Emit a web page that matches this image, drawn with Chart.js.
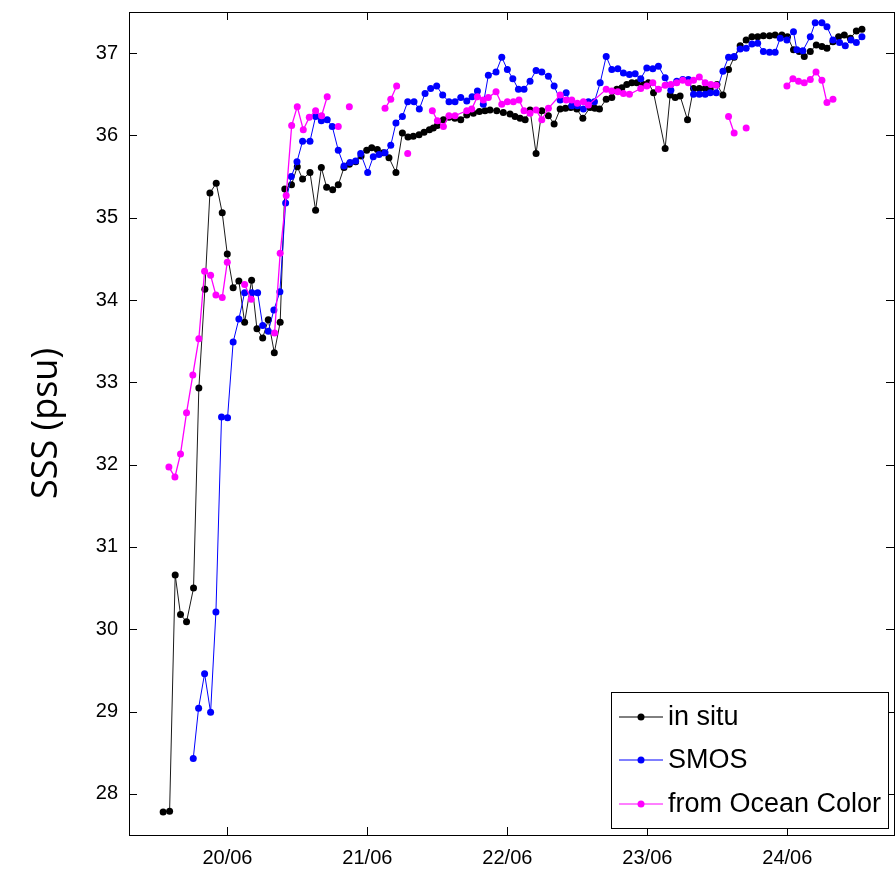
<!DOCTYPE html>
<html>
<head>
<meta charset="utf-8">
<script src="https://cdn.jsdelivr.net/npm/chart.js@4"></script>
<style>
  body { margin: 0; background: #fff; }
  #wrap { width: 895px; height: 876px; }
</style>
</head>
<body>
<div id="wrap"><canvas id="sssChart" width="895" height="876"></canvas></div>
<script>
// time in days of June, SSS in psu
const inSituTime = [19.541,19.587,19.627,19.665,19.708,19.758,19.796,19.839,19.875,19.920,19.963,19.999,
  20.041,20.082,20.123,20.173,20.211,20.252,20.292,20.335,20.377,20.410,20.458,20.499,20.537,20.590,20.630,
  20.671,20.709,20.752,20.792,20.833,20.871,20.916,20.955,20.995,21.031,21.071,21.114,21.154,21.204,21.250,
  21.290,21.328,21.369,21.405,21.443,21.471,21.500,21.543,21.583,21.625,21.667,21.710,21.757,21.800,21.840,
  21.876,21.924,21.971,22.019,22.055,22.091,22.127,22.162,22.205,22.246,22.293,22.334,22.377,22.415,22.453,
  22.496,22.539,22.591,22.625,22.658,22.706,22.746,22.782,22.818,22.853,22.889,22.925,22.972,23.008,23.044,
  23.127,23.163,23.199,23.234,23.287,23.330,23.371,23.413,23.449,23.497,23.540,23.580,23.620,23.663,23.706,
  23.747,23.788,23.829,23.873,23.913,23.961,24.001,24.044,24.085,24.121,24.164,24.207,24.247,24.283,24.326,
  24.366,24.407,24.450,24.493,24.533];
const inSituSSS = [27.78,27.79,30.66,30.18,30.09,30.50,32.93,34.13,35.30,35.42,35.06,34.56,
  34.15,34.23,33.73,34.24,33.65,33.54,33.76,33.36,33.73,35.35,35.40,35.62,35.47,35.55,35.09,
  35.61,35.37,35.34,35.40,35.61,35.65,35.68,35.75,35.82,35.85,35.83,35.79,35.73,35.55,36.03,
  35.98,35.99,36.01,36.04,36.07,36.09,36.12,36.19,36.22,36.21,36.19,36.25,36.27,36.29,36.30,
  36.31,36.30,36.28,36.26,36.23,36.21,36.19,36.31,35.78,36.30,36.24,36.14,36.32,36.33,36.34,
  36.32,36.21,36.34,36.33,36.32,36.44,36.46,36.56,36.58,36.62,36.64,36.64,36.62,36.64,36.52,
  35.84,36.49,36.46,36.48,36.19,36.57,36.57,36.57,36.56,36.62,36.49,36.80,36.95,37.09,37.16,
  37.20,37.20,37.21,37.21,37.22,37.22,37.20,37.04,37.02,36.96,37.02,37.10,37.08,37.06,37.14,
  37.20,37.22,37.18,37.27,37.29];

const smosTime = [19.756,19.794,19.837,19.880,19.918,19.958,20.001,20.041,20.082,20.123,20.175,20.216,
  20.252,20.292,20.332,20.375,20.416,20.456,20.497,20.537,20.590,20.630,20.671,20.713,20.749,20.792,20.833,
  20.876,20.916,20.952,21.002,21.042,21.083,21.126,21.167,21.204,21.250,21.288,21.333,21.371,21.412,21.452,
  21.495,21.538,21.583,21.626,21.667,21.710,21.748,21.786,21.828,21.864,21.919,21.960,22.000,22.039,22.079,
  22.119,22.162,22.205,22.246,22.293,22.334,22.377,22.420,22.460,22.500,22.543,22.579,22.622,22.663,22.706,
  22.746,22.789,22.829,22.872,22.913,22.953,22.996,23.039,23.079,23.127,23.168,23.210,23.253,23.293,23.330,
  23.371,23.413,23.449,23.492,23.540,23.580,23.620,23.663,23.706,23.747,23.788,23.829,23.873,23.913,23.949,
  23.997,24.044,24.068,24.111,24.164,24.199,24.247,24.283,24.326,24.373,24.414,24.455,24.493,24.533];
const smosSSS = [28.43,29.04,29.46,28.99,30.21,32.58,32.57,33.49,33.77,34.09,34.09,34.09,
  33.69,33.62,33.88,34.10,35.18,35.50,35.68,35.93,35.93,36.23,36.18,36.19,36.11,35.82,35.63,
  35.67,35.69,35.78,35.55,35.74,35.77,35.79,35.88,36.15,36.23,36.41,36.41,36.32,36.51,36.57,
  36.60,36.49,36.41,36.41,36.46,36.42,36.47,36.54,36.38,36.73,36.77,36.95,36.80,36.69,36.56,
  36.56,36.66,36.79,36.77,36.72,36.60,36.43,36.52,36.36,36.36,36.32,36.41,36.41,36.64,36.96,
  36.80,36.81,36.76,36.74,36.75,36.69,36.82,36.81,36.84,36.70,36.55,36.66,36.68,36.68,36.50,
  36.50,36.50,36.52,36.52,36.78,36.95,36.96,37.05,37.06,37.11,37.12,37.02,37.01,37.01,37.18,
  37.16,37.26,37.04,37.03,37.20,37.37,37.37,37.32,37.16,37.13,37.09,37.16,37.13,37.20];

// null = no retrieval (line is broken there)
const oceanColorTime = [19.582,19.625,19.665,19.708,19.753,19.796,19.837,19.880,19.918,19.963,19.999,20.060,
  20.123,20.170,20.250,20.337,20.377,20.420,20.459,20.499,20.542,20.585,20.630,20.673,20.713,20.750,
  20.792,20.830,20.871,21.000,21.126,21.167,21.209,21.250,21.288,21.380,21.464,21.500,21.543,21.583,21.626,
  21.710,21.745,21.786,21.828,21.864,21.919,21.960,22.000,22.043,22.083,22.119,22.162,22.205,22.246,22.293,
  22.377,22.420,22.460,22.500,22.543,22.579,22.706,22.746,22.789,22.829,22.872,22.953,22.996,23.039,23.079,
  23.127,23.168,23.210,23.253,23.293,23.330,23.371,23.413,23.454,23.492,23.540,23.580,23.620,23.663,23.706,
  23.850,23.997,24.040,24.080,24.121,24.164,24.205,24.247,24.283,24.326];
const oceanColorSSS = [31.97,31.85,32.13,32.63,33.09,33.53,34.35,34.30,34.06,34.03,34.46,null,
  34.19,34.01,null,33.60,34.57,35.27,36.12,36.35,36.07,36.22,36.30,36.24,36.47,null,
  36.11,null,36.35,null,36.33,36.44,36.60,null,35.78,null,36.30,36.18,36.11,36.24,36.24,
  36.30,36.32,36.47,36.43,36.46,36.53,36.38,36.41,36.41,36.43,36.30,36.27,36.31,36.19,36.33,
  36.49,36.43,36.43,36.39,36.41,36.37,36.56,36.54,36.53,36.51,36.50,36.57,36.60,36.64,36.56,
  36.61,36.62,36.64,36.67,36.64,36.67,36.71,36.64,36.62,36.61,null,36.23,36.03,null,36.09,
  null,36.60,36.69,36.66,36.64,36.68,36.77,36.67,36.40,36.44];

const dayTicks = [20, 21, 22, 23, 24];
const dayLabels = ['20/06', '21/06', '22/06', '23/06', '24/06'];
const sssTicks = [28, 29, 30, 31, 32, 33, 34, 35, 36, 37];

const seriesNames = ['in situ', 'SMOS', 'from Ocean Color'];
const seriesColors = ['#000000', '#0000ff', '#ff00ff'];

function toPoints(times, values) {
  return times.map((t, i) => ({ x: t, y: values[i] }));
}

// box frame with inward ticks on all four sides, like the original figure
const frameTicks = {
  id: 'frameTicks',
  afterDraw(chart) {
    const ctx = chart.ctx;
    const a = chart.chartArea;
    const xs = chart.scales.x, ys = chart.scales.y;
    const len = 8;
    ctx.save();
    ctx.strokeStyle = '#000';
    ctx.lineWidth = 1;
    ctx.beginPath();
    dayTicks.forEach(d => {
      const px = Math.round(xs.getPixelForValue(d)) + 0.5;
      ctx.moveTo(px, a.bottom); ctx.lineTo(px, a.bottom - len);
      ctx.moveTo(px, a.top); ctx.lineTo(px, a.top + len);
    });
    sssTicks.forEach(v => {
      const py = Math.round(ys.getPixelForValue(v)) + 0.5;
      ctx.moveTo(a.left, py); ctx.lineTo(a.left + len, py);
      ctx.moveTo(a.right, py); ctx.lineTo(a.right - len, py);
    });
    ctx.stroke();
    ctx.strokeRect(Math.round(a.left) + 0.5, Math.round(a.top) + 0.5,
      Math.round(a.right - a.left), Math.round(a.bottom - a.top));
    ctx.restore();
  }
};

// legend box in the lower right corner of the plot
const boxLegend = {
  id: 'boxLegend',
  afterDraw(chart) {
    const ctx = chart.ctx;
    const bx = 611.5, by = 692.5, bw = 277, bh = 136;
    ctx.save();
    ctx.fillStyle = '#fff';
    ctx.fillRect(bx, by, bw, bh);
    ctx.strokeStyle = '#000';
    ctx.lineWidth = 1;
    ctx.strokeRect(bx, by, bw, bh);
    ctx.font = '27px "Liberation Sans", Arial, sans-serif';
    ctx.textBaseline = 'middle';
    const rows = [717, 760, 804];
    seriesNames.forEach((name, i) => {
      const y = rows[i];
      ctx.strokeStyle = seriesColors[i];
      ctx.beginPath();
      ctx.moveTo(619, y); ctx.lineTo(663, y);
      ctx.stroke();
      ctx.fillStyle = seriesColors[i];
      ctx.beginPath();
      ctx.arc(641, y, 3.5, 0, Math.PI * 2);
      ctx.fill();
      ctx.fillStyle = '#000';
      ctx.fillText(name, 668, y + 1);
    });
    ctx.restore();
  }
};

const ctx = document.getElementById('sssChart').getContext('2d');
const sssChart = new Chart(ctx, {
  type: 'line',
  data: {
    datasets: [{
      label: seriesNames[0],
      data: toPoints(inSituTime, inSituSSS),
      borderColor: '#1a1a1a',
      backgroundColor: seriesColors[0],
      borderWidth: 1,
      pointRadius: 3.5,
      pointBorderWidth: 0,
      pointBackgroundColor: seriesColors[0],
      order: 3
    }, {
      label: seriesNames[1],
      data: toPoints(smosTime, smosSSS),
      borderColor: seriesColors[1],
      backgroundColor: seriesColors[1],
      borderWidth: 1,
      pointRadius: 3.5,
      pointBorderWidth: 0,
      pointBackgroundColor: seriesColors[1],
      order: 2
    }, {
      label: seriesNames[2],
      data: toPoints(oceanColorTime, oceanColorSSS),
      borderColor: seriesColors[2],
      backgroundColor: seriesColors[2],
      borderWidth: 1.3,
      pointRadius: 3.5,
      pointBorderWidth: 0,
      pointBackgroundColor: seriesColors[2],
      order: 1
    }]
  },
  options: {
    responsive: false,
    animation: false,
    layout: { autoPadding: false, padding: { top: 12, right: 1, left: 0, bottom: 0 } },
    plugins: {
      legend: { display: false },
      tooltip: { enabled: false }
    },
    scales: {
      x: {
        type: 'linear',
        min: 19.297,
        max: 24.762,
        grid: { display: false, drawTicks: false },
        border: { display: false },
        afterBuildTicks: (s) => { s.ticks = dayTicks.map(v => ({ value: v })); },
        afterFit: (s) => { s.height = 41; s.paddingLeft = 0; s.paddingRight = 0; },
        ticks: {
          color: '#000',
          padding: 11,
          maxRotation: 0,
          font: { family: '"Liberation Sans", Arial, sans-serif', size: 20 },
          callback: (v) => dayLabels[dayTicks.indexOf(v)]
        }
      },
      y: {
        min: 27.5,
        max: 37.5,
        grid: { display: false, drawTicks: false },
        border: { display: false },
        afterBuildTicks: (s) => { s.ticks = sssTicks.map(v => ({ value: v })); },
        afterFit: (s) => { s.width = 129; s.paddingTop = 0; s.paddingBottom = 0; },
        title: {
          display: true,
          text: 'SSS (psu)',
          color: '#000',
          padding: { top: 25, bottom: 0 },
          font: { family: '"Open Sans", sans-serif', size: 36 }
        },
        ticks: {
          color: '#000',
          padding: 11,
          font: { family: '"Liberation Sans", Arial, sans-serif', size: 20 }
        }
      }
    }
  },
  plugins: [frameTicks, boxLegend]
});
</script>
</body>
</html>
